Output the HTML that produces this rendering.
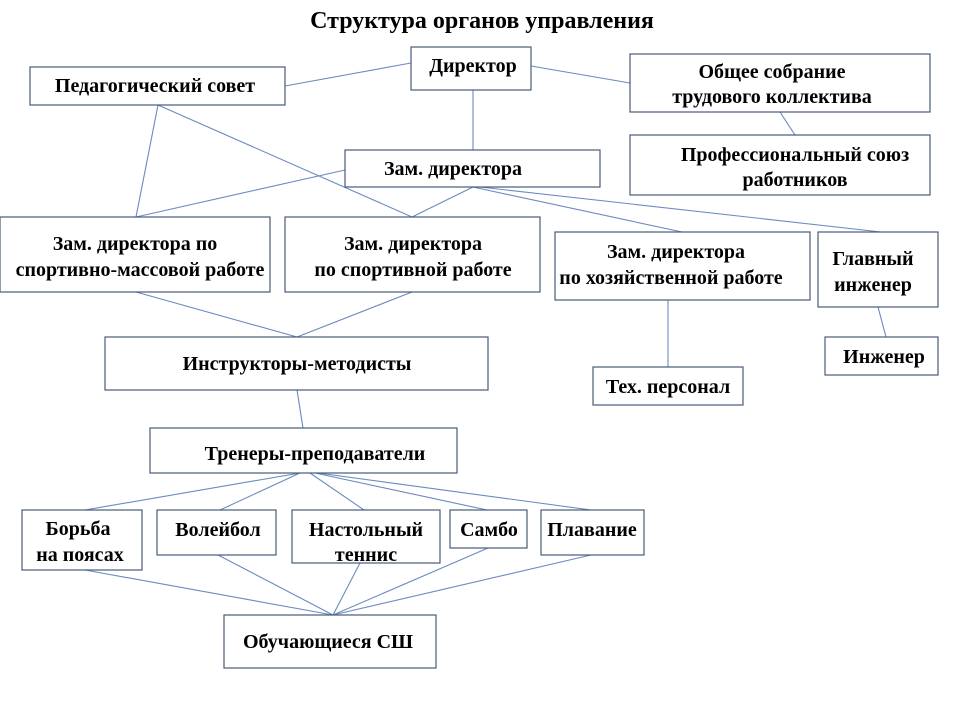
<!DOCTYPE html>
<html><head><meta charset="utf-8"><style>
html,body{margin:0;padding:0;background:#fff;}
svg{display:block;}
text{font-family:"Liberation Serif",serif;font-weight:bold;font-size:20px;fill:#000;}
rect{fill:#fff;stroke:#4a5a7a;stroke-width:1.2;}
line{stroke:#6a8bbf;stroke-width:1.1;}
</style></head><body>
<svg width="960" height="720" viewBox="0 0 960 720">
<text x="482" y="28" text-anchor="middle" style="font-size:24px">Структура органов управления</text>
<g>
<line x1="411" y1="63" x2="285" y2="86"/>
<line x1="531" y1="66" x2="630" y2="83"/>
<line x1="473" y1="90" x2="473" y2="150"/>
<line x1="780" y1="112" x2="795" y2="135"/>
<line x1="158" y1="105" x2="136" y2="217"/>
<line x1="158" y1="105" x2="412" y2="217"/>
<line x1="345" y1="170" x2="136" y2="217"/>
<line x1="473" y1="187" x2="412" y2="217"/>
<line x1="473" y1="187" x2="682" y2="232"/>
<line x1="480" y1="187" x2="881" y2="232"/>
<line x1="136" y1="292" x2="297" y2="337"/>
<line x1="412" y1="292" x2="297" y2="337"/>
<line x1="668" y1="300" x2="668" y2="367"/>
<line x1="878" y1="307" x2="886" y2="337"/>
<line x1="297" y1="390" x2="303" y2="428"/>
<line x1="300" y1="473" x2="85" y2="510"/>
<line x1="300" y1="473" x2="220" y2="510"/>
<line x1="310" y1="473" x2="364" y2="510"/>
<line x1="315" y1="473" x2="487" y2="510"/>
<line x1="318" y1="473" x2="591" y2="510"/>
<line x1="85" y1="570" x2="333" y2="615"/>
<line x1="218" y1="555" x2="333" y2="615"/>
<line x1="360" y1="563" x2="333" y2="615"/>
<line x1="488" y1="548" x2="333" y2="615"/>
<line x1="591" y1="555" x2="333" y2="615"/>
</g>
<rect x="411" y="47" width="120" height="43"/>
<text x="473" y="72" text-anchor="middle">Директор</text>
<rect x="30" y="67" width="255" height="38"/>
<text x="155" y="92" text-anchor="middle">Педагогический совет</text>
<rect x="630" y="54" width="300" height="58"/>
<text x="772" y="78" text-anchor="middle">Общее собрание</text>
<text x="772" y="103" text-anchor="middle">трудового коллектива</text>
<rect x="630" y="135" width="300" height="60"/>
<text x="795" y="161" text-anchor="middle">Профессиональный союз</text>
<text x="795" y="186" text-anchor="middle">работников</text>
<rect x="345" y="150" width="255" height="37"/>
<text x="453" y="175" text-anchor="middle">Зам. директора</text>
<rect x="0" y="217" width="270" height="75"/>
<text x="135" y="250" text-anchor="middle">Зам. директора по</text>
<text x="140" y="276" text-anchor="middle">спортивно-массовой работе</text>
<rect x="285" y="217" width="255" height="75"/>
<text x="413" y="250" text-anchor="middle">Зам. директора</text>
<text x="413" y="276" text-anchor="middle">по спортивной работе</text>
<rect x="555" y="232" width="255" height="68"/>
<text x="676" y="258" text-anchor="middle">Зам. директора</text>
<text x="671" y="284" text-anchor="middle">по хозяйственной работе</text>
<rect x="818" y="232" width="120" height="75"/>
<text x="873" y="265" text-anchor="middle">Главный</text>
<text x="873" y="291" text-anchor="middle">инженер</text>
<rect x="825" y="337" width="113" height="38"/>
<text x="884" y="363" text-anchor="middle">Инженер</text>
<rect x="593" y="367" width="150" height="38"/>
<text x="668" y="393" text-anchor="middle">Тех. персонал</text>
<rect x="105" y="337" width="383" height="53"/>
<text x="297" y="370" text-anchor="middle">Инструкторы-методисты</text>
<rect x="150" y="428" width="307" height="45"/>
<text x="315" y="460" text-anchor="middle">Тренеры-преподаватели</text>
<rect x="22" y="510" width="120" height="60"/>
<text x="78" y="535" text-anchor="middle">Борьба</text>
<text x="80" y="561" text-anchor="middle">на поясах</text>
<rect x="157" y="510" width="119" height="45"/>
<text x="218" y="536" text-anchor="middle">Волейбол</text>
<rect x="292" y="510" width="148" height="53"/>
<text x="366" y="536" text-anchor="middle">Настольный</text>
<text x="366" y="561" text-anchor="middle">теннис</text>
<rect x="450" y="510" width="77" height="38"/>
<text x="489" y="536" text-anchor="middle">Самбо</text>
<rect x="541" y="510" width="103" height="45"/>
<text x="592" y="536" text-anchor="middle">Плавание</text>
<rect x="224" y="615" width="212" height="53"/>
<text x="328" y="648" text-anchor="middle">Обучающиеся СШ</text>
</svg>
</body></html>
